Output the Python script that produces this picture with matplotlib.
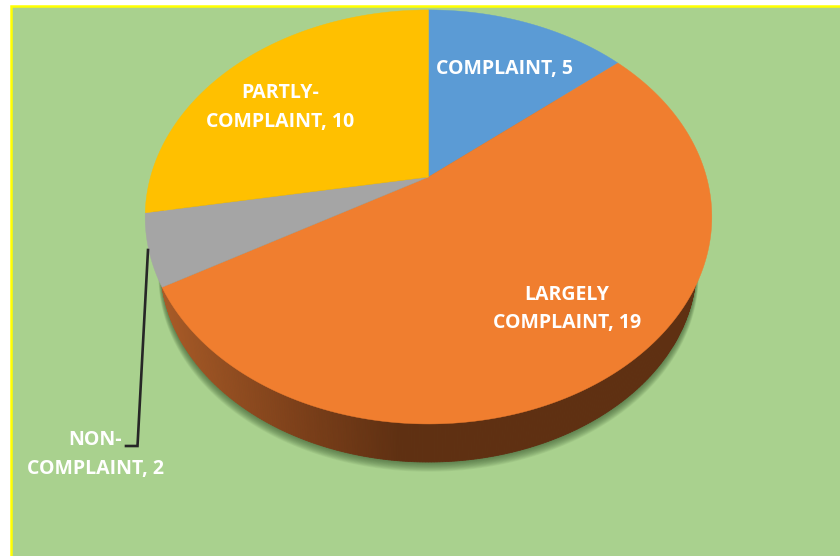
import numpy as np
import matplotlib
matplotlib.use("Agg")
import matplotlib.pyplot as plt
from matplotlib.patches import Polygon, Rectangle

categories = ["COMPLAINT", "LARGELY\nCOMPLAINT", "NON-\nCOMPLAINT", "PARTLY-\nCOMPLAINT"]
values = [5, 19, 2, 10]
colors = ["#5B9BD5", "#F07E2F", "#A5A5A5", "#FFC000"]

# layout (pixels)
W, H = 840, 556
CX, CY = 428.5, 177.0
A, B, K = 278.0, 199.3, 0.193
S, DY = 0.945, 51.6
FS = 14.0
FONT = "Open Sans"
label_pos = [(504, 69), (567, 309), (95.5, 454.5), (280, 107.5)]


def project(theta_deg, scale=1.0, dy=0.0):
    t = np.radians(theta_deg)
    u, v = np.cos(t), np.sin(t)
    d = 1 + K * v
    return CX + scale * A * u / d, CY + dy - scale * B * v / d


fig = plt.figure(figsize=(W / 100, H / 100), dpi=100, facecolor="white")
ax = fig.add_axes([0, 0, 1, 1])

wedges, _ = ax.pie(values, colors=colors, startangle=90, counterclock=False)
spans = [(w.theta1, w.theta2, w.get_facecolor()) for w in wedges]
for w in wedges:
    w.remove()

ax.set_aspect("auto")
ax.set_xlim(0, W)
ax.set_ylim(H, 0)
ax.axis("off")

ax.add_patch(Rectangle((11, 5.5), W, H, fc="#A9D18E", ec="#FFFF00", lw=1.8, zorder=0))

# soft shadow below the pie
th_all = np.linspace(0, 360, 361)
bx, by = project(th_all, S, DY)
for d in np.linspace(13, 1, 13):
    grow = 1 + d / 1500
    ax.fill(CX + (bx - CX) * grow, by + d * 0.75, color="#3c5a30", alpha=0.07, lw=0, zorder=1)

# side wall: shaded strips, starting under the top face so no edge pokes out
stops_x = [160, 300, 400, 840]
stops_rgb = np.array([[170, 92, 40], [125, 64, 26], [95, 48, 18], [95, 48, 18]]) / 255
ths = np.linspace(180, 360, 361)
for t0, t1 in zip(ths[:-1], ths[1:]):
    tt = np.array([t0, t1])
    xa, ya = project(tt, 0.97)
    xb, yb = project(tt, S, DY)
    xm = xb.mean()
    c = [np.interp(xm, stops_x, stops_rgb[:, i]) for i in range(3)]
    ax.add_patch(Polygon(np.c_[np.r_[xa, xb[::-1]], np.r_[ya, yb[::-1]]],
                         fc=c, ec=c, lw=0.6, zorder=2))

# top face, from the pie's own wedge angles
for t1, t2, col in spans:
    tt = np.linspace(t1, t2, 200)
    x, y = project(tt)
    ax.add_patch(Polygon(np.c_[np.r_[CX, x], np.r_[CY, y]], fc=col, ec=col, lw=0.3, zorder=3))

# leader line
ax.plot([148, 137.5, 126], [250, 446, 446], color="#262626", lw=1.9, zorder=4,
        solid_joinstyle="miter")

for cat, val, (lx, ly) in zip(categories, values, label_pos):
    ax.text(lx, ly, f"{cat}, {val}", color="white", fontsize=FS, fontweight="bold",
            family=FONT, ha="center", va="center", linespacing=1.55, zorder=5)

fig.savefig("out.png", dpi=100, facecolor="white")
